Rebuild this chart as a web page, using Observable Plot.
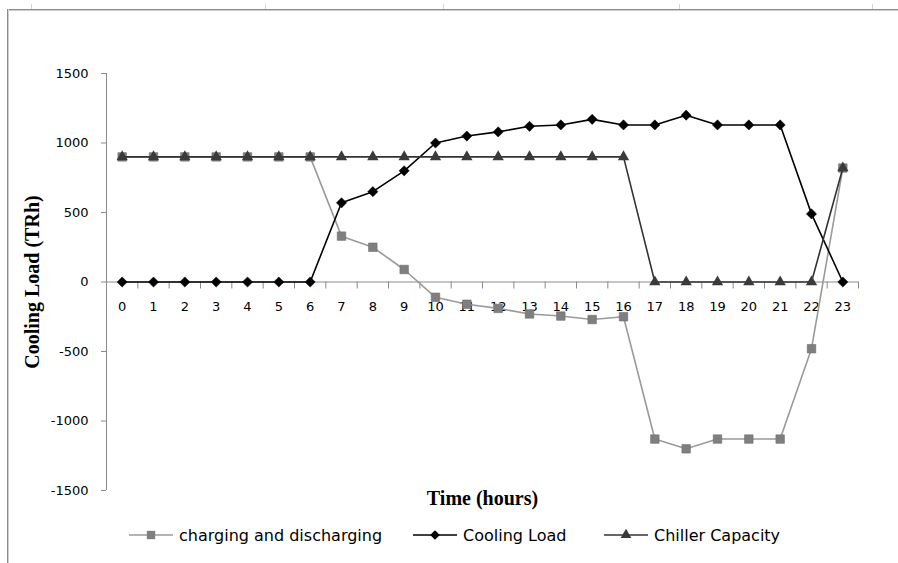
<!DOCTYPE html>
<html><head><meta charset="utf-8">
<script src="https://cdn.jsdelivr.net/npm/d3@7"></script>
<script src="https://cdn.jsdelivr.net/npm/@observablehq/plot@0.6"></script>
<style>
body{margin:0;background:#fff;width:898px;height:563px;overflow:hidden;position:relative;font-family:"DejaVu Sans",sans-serif}
#chart{position:absolute;left:0;top:0}
.bt{position:absolute;left:7px;top:9px;right:0;height:1px;background:#8c8c8c;border-bottom:1px solid #cfcfcf}
.bl{position:absolute;left:7px;top:9px;bottom:0;width:1px;background:#8c8c8c;border-right:1px solid #cfcfcf}
.rt{position:absolute;top:4px;width:1px;height:5px;background:#d4d4d4}
.item{position:absolute;top:524px;height:22px;display:flex;align-items:center;font-size:16px;color:#000;white-space:nowrap}
.item svg{margin-right:5px}
</style>
</head><body>
<div class="rt" style="left:31px"></div><div class="rt" style="left:265px"></div><div class="rt" style="left:443px"></div><div class="rt" style="left:679px"></div><div class="rt" style="left:872px"></div>
<div class="bt"></div><div class="bl"></div>
<div id="chart"></div>
<div id="legend"></div>
<script>
const hours = [0,1,2,3,4,5,6,7,8,9,10,11,12,13,14,15,16,17,18,19,20,21,22,23];
const charging = [900,900,900,900,900,900,900,330,250,90,-110,-160,-190,-230,-245,-270,-250,-1130,-1200,-1130,-1130,-1130,-480,820];
const coolingLoad = [0,0,0,0,0,0,0,570,650,800,1000,1050,1080,1120,1130,1170,1130,1130,1200,1130,1130,1130,490,0];
const chillerCapacity = [900,900,900,900,900,900,900,900,900,900,900,900,900,900,900,900,900,0,0,0,0,0,0,820];
const yTicks = [-1500,-1000,-500,0,500,1000,1500];
const seriesNames = ["charging and discharging","Cooling Load","Chiller Capacity"];
const yTitle = "Cooling Load (TRh)";
const xTitle = "Time (hours)";

const xEdges = [...hours.map(h => h - 0.5), hours[hours.length - 1] + 0.5];
const rows = hours.map((h, i) => ({hour: h, charging: charging[i], cooling: coolingLoad[i], chiller: chillerCapacity[i]}));

const serif = "'Liberation Serif', 'DejaVu Serif', serif";
const sans = "'DejaVu Sans', sans-serif";
const axisGray = "#8a8a8a";

const chart = Plot.plot({
  width: 898, height: 518,
  marginTop: 73, marginBottom: 28, marginLeft: 106, marginRight: 40,
  x: {type: "linear", domain: [xEdges[0], xEdges[xEdges.length - 1]], axis: null},
  y: {domain: [yTicks[0], yTicks[yTicks.length - 1]], axis: null},
  style: {fontFamily: sans, background: "transparent", overflow: "visible", color: "#000"},
  marks: [
    Plot.axisY(yTicks, {tickSize: 5, tickPadding: 13, stroke: axisGray, fontSize: 13, label: null, tickFormat: d => String(d), fill: "#000"}),
    Plot.ruleX([xEdges[0]], {y1: yTicks[0], y2: yTicks[yTicks.length - 1], stroke: axisGray}),
    Plot.ruleY([0], {x1: xEdges[0], x2: xEdges[xEdges.length - 1], stroke: axisGray}),
    Plot.ruleX(xEdges, {y1: 0, y2: 0, insetBottom: -7, stroke: axisGray}),
    Plot.text(hours, {x: d => d, y: 0, dy: 25, text: d => String(d), fontSize: 13, fill: "#000"}),
    Plot.line(rows, {x: "hour", y: "charging", stroke: "#9a9a9a", strokeWidth: 1.6}),
    Plot.dot(rows, {x: "hour", y: "charging", symbol: "square", r: 4.8, fill: "#7f7f7f", stroke: "#6f6f6f", strokeWidth: 0.6}),
    Plot.line(rows, {x: "hour", y: "cooling", stroke: "#000", strokeWidth: 1.6}),
    Plot.dot(rows, {x: "hour", y: "cooling", symbol: "diamond2", r: 4.6, fill: "#000", stroke: "#000", strokeWidth: 0.5}),
    Plot.line(rows, {x: "hour", y: "chiller", stroke: "#333", strokeWidth: 1.6}),
    Plot.dot(rows, {x: "hour", y: "chiller", symbol: "triangle", r: 4.2, fill: "#3a3a3a", stroke: "none"}),
    Plot.text([yTitle], {frameAnchor: "left", textAnchor: "middle", dx: -74, rotate: -90, fontWeight: "bold", fontFamily: serif, fontSize: 20, fill: "#000"}),
    Plot.text([xTitle], {frameAnchor: "bottom", textAnchor: "middle", dy: 14, fontWeight: "bold", fontFamily: serif, fontSize: 20, fill: "#000"})
  ]
});
document.getElementById("chart").appendChild(chart);

// legend
const legend = document.getElementById("legend");
const lefts = [128, 412, 603];
const styles = [
  {line: "#9a9a9a", sym: d3.symbolSquare, size: 70, fill: "#7f7f7f"},
  {line: "#000", sym: d3.symbolDiamond2, size: 60, fill: "#000"},
  {line: "#333", sym: d3.symbolTriangle, size: 50, fill: "#3a3a3a"}
];
seriesNames.forEach((name, i) => {
  const div = document.createElement("div");
  div.className = "item";
  div.style.left = lefts[i] + "px";
  const s = styles[i];
  const svg = d3.create("svg").attr("width", 46).attr("height", 14);
  svg.append("line").attr("x1", 1).attr("x2", 45).attr("y1", 7).attr("y2", 7).attr("stroke", s.line).attr("stroke-width", 1.6);
  svg.append("path").attr("d", d3.symbol(s.sym, s.size)()).attr("transform", "translate(23,7)").attr("fill", s.fill);
  div.appendChild(svg.node());
  const span = document.createElement("span");
  span.textContent = name;
  div.appendChild(span);
  legend.appendChild(div);
});
</script>
</body></html>
